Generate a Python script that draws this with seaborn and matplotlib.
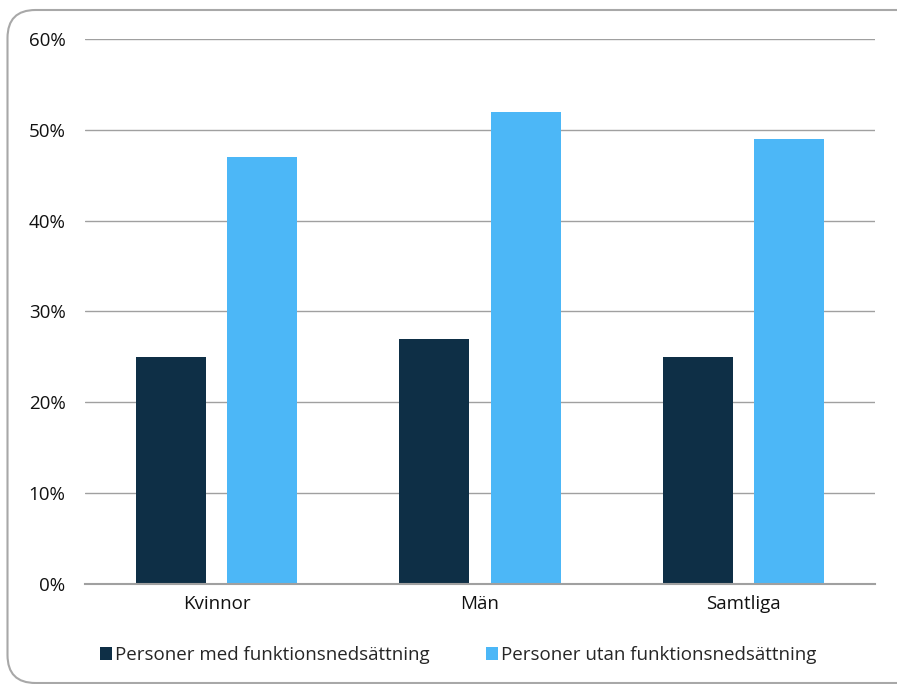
import matplotlib
matplotlib.use("Agg")
import matplotlib.pyplot as plt
from matplotlib.patches import FancyBboxPatch
from matplotlib.ticker import FuncFormatter
import pandas as pd
import seaborn as sns

# data
groups = ["Kvinnor", "Män", "Samtliga"]
series = ["Personer med funktionsnedsättning", "Personer utan funktionsnedsättning"]
with_disability = [25, 27, 25]
without_disability = [47, 52, 49]
colors = ["#0e2f46", "#4cb7f7"]

df = pd.DataFrame({
    "grupp": groups * 2,
    "serie": [series[0]] * 3 + [series[1]] * 3,
    "andel": with_disability + without_disability,
})

sns.set_theme(style="white")
plt.rcParams["font.family"] = ["Open Sans", "DejaVu Sans"]

fig = plt.figure(figsize=(8.97, 6.84), dpi=100)
ax = fig.add_axes([0.0948, 0.1462, 0.8807, 0.7968])

sns.barplot(data=df, x="grupp", y="andel", hue="serie", palette=colors,
            width=0.694, gap=0.233, saturation=1, linewidth=0, ax=ax, legend=True)

ax.set_ylim(0, 60)
ax.set_yticks(range(0, 61, 10))
ax.yaxis.set_major_formatter(FuncFormatter(lambda v, _: f"{int(v)}%"))
ax.grid(axis="y", color="#a0a0a0", linewidth=1)
ax.set_axisbelow(True)
for s in ["top", "right", "left"]:
    ax.spines[s].set_visible(False)
ax.spines["bottom"].set_color("#a0a0a0")
ax.spines["bottom"].set_linewidth(1.5)
ax.tick_params(axis="both", length=0, labelsize=13.5, colors="#111111")
ax.tick_params(axis="y", pad=14)
ax.tick_params(axis="x", pad=8)
ax.set_xlabel("")
ax.set_ylabel("")

ax.legend_.remove()
handles, labels = ax.get_legend_handles_labels()
fig.legend(handles, labels, loc="center", bbox_to_anchor=(0.511, 0.042), ncol=2,
           frameon=False, fontsize=13.5, handlelength=0.65, handleheight=0.65,
           handletextpad=0.15, columnspacing=3.0)

# rounded outer border (inches), right edge runs off the canvas
border = FancyBboxPatch((0.075, 0.01), 9.3, 6.73, transform=fig.dpi_scale_trans,
                        boxstyle="round,pad=0,rounding_size=0.28",
                        facecolor="none", edgecolor="#a8a8a8", linewidth=1.5)
fig.patches.append(border)

fig.savefig("out.png", dpi=100)
